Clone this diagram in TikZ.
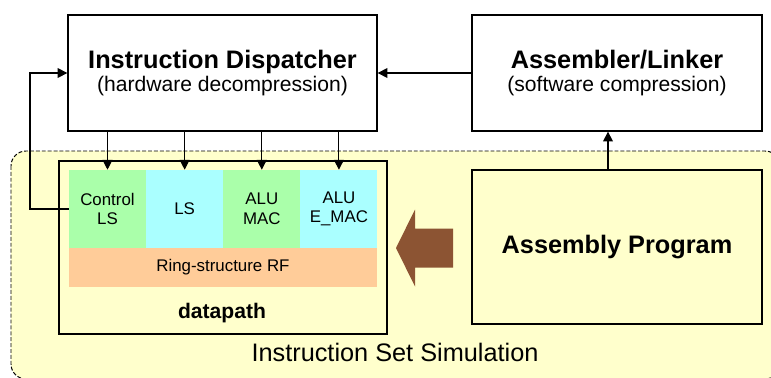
\documentclass[tikz,border=0pt]{standalone}
\usepackage{fontspec}
\setmainfont{Liberation Sans}
\usepackage{tikz}
\usetikzlibrary{arrows.meta,positioning}
\definecolor{simbg}{HTML}{FFFFCC}
\definecolor{cellgreen}{HTML}{AAFFAA}
\definecolor{cellcyan}{HTML}{AAFFFF}
\definecolor{rfsoft}{HTML}{FFCC99}
\definecolor{bigarrow}{HTML}{8C5433}

\begin{document}
\begin{tikzpicture}[
  blk/.style={draw=black,line width=0.9pt,align=center,inner sep=0pt},
  tool/.style={blk,font=\fontsize{15}{17}\selectfont},
  cell/.style={inner sep=0pt,align=center,minimum width=1.925cm,minimum height=1.95cm,font=\fontsize{12}{14}\selectfont},
  arr/.style={line width=0.8pt,-{Triangle[length=7pt,width=7pt]}},
  ttl/.style={font=\fontsize{18}{21}\selectfont\bfseries}
]
  \useasboundingbox (0,0) rectangle (19.275,9.425);
  \begin{scope}
    \clip (0,0) rectangle (19.275,9.425);
    \draw[fill=simbg,line width=0.7pt,dash pattern=on 2.8pt off 1.4pt,rounded corners=0.375cm] (0.275,5.65) rectangle (19.5,-0.05);
  \end{scope}
  \node[tool,minimum width=7.725cm,minimum height=2.9cm] (disp) at (5.5625,7.6)
    {{\fontsize{18}{21}\selectfont\bfseries Instruction Dispatcher}\\(hardware decompression)};
  \node[tool,minimum width=7.25cm,minimum height=2.9cm] (asm) at (15.425,7.6)
    {{\fontsize{18}{21}\selectfont\bfseries Assembler/Linker}\\(software compression)};
  \node[blk,minimum width=8.2cm,minimum height=4.325cm] (dp) at (5.575,3.2375) {};
  \node[cell,fill=cellgreen] (ctl) at (2.6875,4.2) {Control\\LS};
  \node[cell,fill=cellcyan,right=-0.3pt of ctl] (ls) {LS};
  \node[cell,fill=cellgreen,right=-0.3pt of ls] (alu) {ALU\\MAC};
  \node[cell,fill=cellcyan,right=-0.3pt of alu] (emac) {ALU\\E\_MAC};
  \node[cell,fill=rfsoft,minimum width=7.7cm,minimum height=0.975cm] (rf) at (5.575,2.7375) {Ring-structure RF};
  \node[font=\fontsize{15}{18}\selectfont\bfseries] (dpl) at (5.55,1.6) {datapath};
  \node[font=\fontsize{18}{21}\selectfont] (iss) at (9.875,0.625) {Instruction Set Simulation};
  \node[blk,ttl,fill=simbg,minimum width=7.25cm,minimum height=3.85cm] (prog) at (15.425,3.25) {Assembly Program};
  % big arrow from the program into the datapath
  \fill[bigarrow] (9.9,3.225) -- (10.375,4.1875) -- (10.375,3.7125) -- (11.325,3.7125)
    -- (11.325,2.7375) -- (10.375,2.7375) -- (10.375,2.2625) -- cycle;
  \foreach \c in {ctl,ls,alu,emac}
    \draw[arr] (disp.south -| \c.north) -- (\c.north);
  \draw[arr] (asm.west) -- (disp.east);
  \draw[arr] ([xshift=-0.225cm]prog.north) -- ([xshift=-0.225cm]prog.north |- asm.south);
  \coordinate (lp) at (0.75,0);
  \draw[arr] (ctl.west) -- (ctl.west -| lp) |- (disp.west);
\end{tikzpicture}
\end{document}
